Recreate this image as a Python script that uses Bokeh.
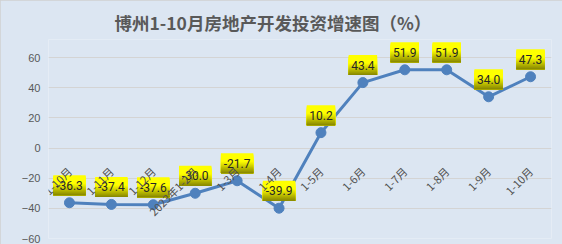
import math
from bokeh.plotting import figure
from bokeh.models import ColumnDataSource, FixedTicker, Range1d
from bokeh.core.properties import value
from bokeh.embed import file_html
from bokeh.resources import INLINE

# ---- data ----
categories = ["1-10月", "1-11月", "1-12月", "2023年1-2月", "1-3月", "1-4月",
              "1-5月", "1-6月", "1-7月", "1-8月", "1-9月", "1-10月"]
growth = [-36.3, -37.4, -37.6, -30.0, -21.7, -39.9, 10.2, 43.4, 51.9, 51.9, 34.0, 47.3]
y_ticks = [-60, -40, -20, 0, 20, 40, 60]
title_text = "博州1-10月房地产开发投资增速图（%）"

# ---- layout ----
W, H = 562, 244
LEFT, RIGHT, TOP, BOTTOM = 48, 11, 39, 6
Y0, Y1 = -60, 72
ppu = (H - TOP - BOTTOM) / (Y1 - Y0)  # pixels per data unit (vertical)

BG = "#DCE6F2"
LINE = "#4F81BD"
GRAY = "#595959"

xs = list(range(1, len(categories) + 1))

p = figure(width=W, height=H,
           x_range=Range1d(0.5, len(categories) + 0.5),
           y_range=Range1d(Y0, Y1),
           output_backend="svg", toolbar_location=None,
           min_border_left=LEFT, min_border_right=RIGHT,
           min_border_top=TOP, min_border_bottom=BOTTOM)

p.background_fill_color = BG
p.border_fill_color = BG
p.outline_line_color = None
p.styles = {"outline": "1px solid #D0D0D0", "outline-offset": "-1px"}

# title
p.title.text = title_text
p.title.text_font = "Noto Sans CJK SC"
p.title.text_font_size = "17.5px"
p.title.text_font_style = "bold"
p.title.text_color = GRAY
p.title.align = "left"
p.title.offset = 66

# y axis
yt = FixedTicker(ticks=y_ticks)
p.yaxis.ticker = yt
p.yaxis.axis_line_color = None
p.yaxis.major_tick_line_color = None
p.yaxis.minor_tick_line_color = None
p.yaxis.major_tick_out = 0
p.yaxis.major_label_standoff = 8
p.yaxis.major_label_text_font = "Liberation Sans"
p.yaxis.major_label_text_font_size = "11px"
p.yaxis.major_label_text_color = GRAY

p.ygrid.ticker = yt
p.ygrid.grid_line_color = "#D4D4D4"
p.xgrid.visible = False

# x axis at y = 0
p.xaxis.ticker = FixedTicker(ticks=xs)
p.xaxis.major_label_overrides = {x: c for x, c in zip(xs, categories)}
p.xaxis.fixed_location = 0
p.xaxis.major_label_orientation = math.pi / 4
p.xaxis.axis_line_color = None
p.xaxis.major_tick_line_color = None
p.xaxis.minor_tick_line_color = None
p.xaxis.major_tick_out = 0
p.xaxis.major_label_standoff = 21
p.xaxis.major_label_text_font = "Noto Sans CJK SC"
p.xaxis.major_label_text_font_size = "11px"
p.xaxis.major_label_text_color = "#505050"

# series
p.line(xs, growth, line_color=LINE, line_width=3)
p.scatter(xs, growth, size=10, fill_color=LINE, line_color=LINE)

# data label boxes with yellow gradient
def mix(c1, c2, t):
    a = [int(c1[i:i + 2], 16) for i in (1, 3, 5)]
    b = [int(c2[i:i + 2], 16) for i in (1, 3, 5)]
    return "#%02x%02x%02x" % tuple(round(a[j] + (b[j] - a[j]) * t) for j in range(3))

N = 20
box_bottom, box_top = 7.5, 27.5
bx, by, bw, bh, bc = [], [], [], [], []
texts, ty = [], []
for x, v in zip(xs, growth):
    txt = f"{v:.1f}"
    texts.append(txt)
    ty.append(v + (box_bottom + box_top) / 2 / ppu)
    w = 6.3 * sum(ch.isdigit() for ch in txt) + 3.5 + (4 if txt.startswith("-") else 0) + 6
    for k in range(N):
        top_px = box_top - k * (box_top - box_bottom) / N
        f = k / (N - 1)
        c = "#ffff00" if f < 0.4 else mix("#ffff00", "#8a8a00", (f - 0.4) / 0.6)
        bx.append(x)
        by.append(v + (top_px + box_bottom) / 2 / ppu)
        bw.append(w)
        bh.append(top_px - box_bottom)
        bc.append(c)

src = ColumnDataSource(dict(x=bx, y=by, w=bw, h=bh, c=bc))
p.rect(x="x", y="y", width="w", height="h", width_units="screen", height_units="screen",
       fill_color="c", line_color=None, source=src)

p.text(x=xs, y=ty, text=texts, text_align="center", text_baseline="middle",
       text_font=value("Roboto"), text_font_size="12px", text_color="#262626")

open("out.html", "w").write(file_html(p, INLINE))
